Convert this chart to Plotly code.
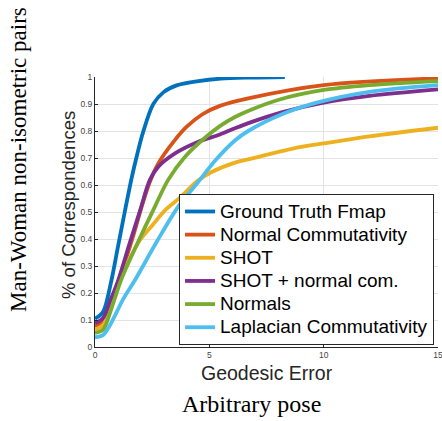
import plotly.graph_objects as go

# ---- data ----
gt_x = [0, 0.35, 0.7, 1.0, 1.3, 1.6, 1.85, 2.1, 2.55, 3.0, 3.57, 4.45, 5.5, 6.8, 8.3]
gt_y = [0.105, 0.13, 0.24, 0.37, 0.5, 0.625, 0.715, 0.795, 0.9, 0.944, 0.969, 0.984, 0.994, 0.998, 1.0]

nc_x = [0, 0.35, 0.65, 1.05, 1.7, 2.04, 2.4, 2.77, 3.5, 4.0, 4.7, 5.46, 6.7, 10, 15]
nc_y = [0.075, 0.1, 0.16, 0.25, 0.42, 0.52, 0.612, 0.68, 0.767, 0.815, 0.862, 0.893, 0.921, 0.97, 0.995]

shot_x = [0, 0.35, 0.65, 1.25, 1.75, 2.0, 2.5, 3.05, 3.7, 4.45, 5.1, 6.12, 6.8, 8.7, 10, 12, 15]
shot_y = [0.065, 0.08, 0.144, 0.279, 0.365, 0.4, 0.45, 0.505, 0.552, 0.613, 0.648, 0.683, 0.697, 0.736, 0.754, 0.78, 0.812]

shotnc_x = [0, 0.35, 0.65, 1.02, 1.5, 1.97, 2.4, 2.77, 3.5, 4.52, 5.46, 6.12, 6.8, 8.2, 10, 12, 15]
shotnc_y = [0.088, 0.107, 0.168, 0.248, 0.38, 0.505, 0.619, 0.668, 0.717, 0.76, 0.787, 0.81, 0.832, 0.87, 0.905, 0.93, 0.954]

nrm_x = [0, 0.35, 0.65, 1.15, 2.0, 2.62, 3.2, 3.94, 4.81, 5.46, 6.12, 6.8, 8, 10, 12, 15]
nrm_y = [0.052, 0.063, 0.125, 0.25, 0.41, 0.52, 0.619, 0.705, 0.775, 0.818, 0.852, 0.878, 0.915, 0.952, 0.97, 0.985]

lap_x = [0, 0.35, 0.65, 1.25, 1.75, 2.7, 3.64, 4.52, 5.25, 6.12, 6.7, 8.2, 9.7, 12, 15]
lap_y = [0.036, 0.044, 0.08, 0.18, 0.248, 0.39, 0.52, 0.612, 0.69, 0.765, 0.8, 0.863, 0.905, 0.945, 0.97]

names = ["Ground Truth Fmap", "Normal Commutativity", "SHOT",
         "SHOT + normal com.", "Normals", "Laplacian Commutativity"]
colors = ["#0072BD", "#D95319", "#EDB120", "#7E2F8E", "#77AC30", "#4DBEEE"]
series = [(gt_x, gt_y), (nc_x, nc_y), (shot_x, shot_y),
          (shotnc_x, shotnc_y), (nrm_x, nrm_y), (lap_x, lap_y)]

x_ticks = [0, 5, 10, 15]
y_ticks = [0, 0.1, 0.2, 0.3, 0.4, 0.5, 0.6, 0.7, 0.8, 0.9, 1]
y_tick_text = ["0", "0.1", "0.2", "0.3", "0.4", "0.5", "0.6", "0.7", "0.8", "0.9", "1"]

fig = go.Figure()
for (xs, ys), n, c in zip(series, names, colors):
    fig.add_trace(go.Scatter(x=xs, y=ys, mode="lines",
                             name="<span style='font-size:19px'>" + n + "</span>",
                             line=dict(color=c, width=3.8, shape="spline", smoothing=0.9)))

axis_common = dict(showgrid=True, gridcolor="#e3e3e3", gridwidth=1,
                   showline=True, linecolor="#262626", linewidth=1,
                   ticks="inside", ticklen=3, tickcolor="#262626",
                   zeroline=False, automargin=False, ticklabeloverflow="allow",
                   tickfont=dict(family="Liberation Sans, Arial", size=8.5, color="#444444"))

fig.update_layout(
    width=442, height=421,
    margin=dict(l=95, r=4, t=77, b=74),
    paper_bgcolor="white", plot_bgcolor="white",
    xaxis=dict(range=[0, 15], tickvals=x_ticks, ticktext=[str(v) for v in x_ticks],
               **axis_common),
    yaxis=dict(range=[0, 1], tickvals=y_ticks, ticktext=y_tick_text, **axis_common),
    legend=dict(x=0.245, y=0.567, xanchor="left", yanchor="top",
                bgcolor="white", bordercolor="#262626", borderwidth=1,
                font=dict(family="Liberation Sans, Arial", size=15.5, color="black"),
                itemwidth=30, tracegroupgap=0),
    showlegend=True,
)

fig.add_annotation(text="% of Correspondences", xref="paper", yref="paper",
                   x=(68 - 95) / 343, y=(347 - 205) / 270, textangle=-90,
                   showarrow=False, xanchor="center", yanchor="middle",
                   font=dict(family="Liberation Sans, Arial", size=18.5, color="#262626"))
fig.add_annotation(text="Geodesic Error", xref="paper", yref="paper",
                   x=(267 - 95) / 343, y=(347 - 373) / 270,
                   showarrow=False, xanchor="center", yanchor="middle",
                   font=dict(family="Liberation Sans, Arial", size=19.5, color="#262626"))
fig.add_annotation(text="Man-Woman non-isometric pairs", xref="paper", yref="paper",
                   x=(18 - 95) / 343, y=(347 - 160) / 270, textangle=-90,
                   showarrow=False, xanchor="center", yanchor="middle",
                   font=dict(family="Liberation Serif, Times New Roman", size=23, color="black"))
fig.add_annotation(text="Arbitrary pose", xref="paper", yref="paper",
                   x=(251 - 95) / 343, y=(347 - 404) / 270,
                   showarrow=False, xanchor="center", yanchor="middle",
                   font=dict(family="Liberation Serif, Times New Roman", size=24, color="black"))

fig.write_html("out.html", config={"displayModeBar": False},
               post_script="document.body.style.margin='0px';")
